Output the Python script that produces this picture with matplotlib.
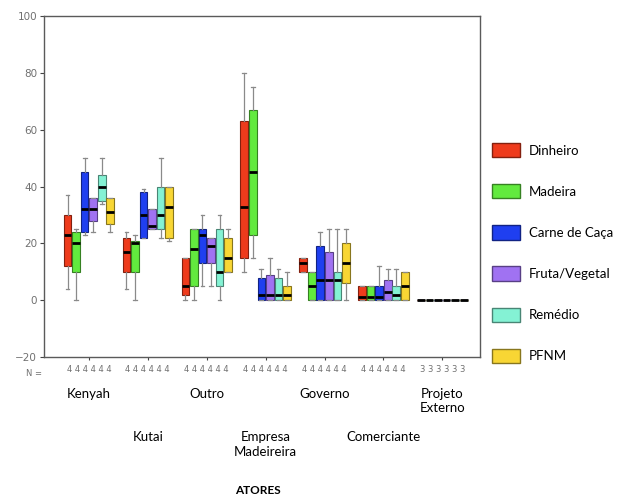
import matplotlib
matplotlib.use("Agg")
import matplotlib.pyplot as plt
import matplotlib.colors as mcolors
from matplotlib.patches import Patch
from matplotlib.transforms import blended_transform_factory

# Atores (eixo x), rótulos em duas linhas alternadas
atores = ["Kenyah", "Kutai", "Outro", "Empresa\nMadeireira", "Governo",
          "Comerciante", "Projeto\nExterno"]
n_por_ator = ["4 4 4 4 4 4", "4 4 4 4 4 4", "4 4 4 4 4 4", "4 4 4 4 4 4",
              "4 4 4 4 4 4", "4 4 4 4 4 4", "3 3 3 3 3 3"]

series = ["Dinheiro", "Madeira", "Carne de Caça", "Fruta/Vegetal", "Remédio", "PFNM"]
cores = ["#ee3b1c", "#62ea3e", "#1f3ff0", "#a072f2", "#84f2d4", "#f8d634"]

# (mín, Q1, mediana, Q3, máx) por ator
dinheiro = [(4, 12, 23, 30, 37), (4, 10, 17, 22, 24), (0, 2, 5, 15, 15),
            (10, 15, 33, 63, 80), (10, 10, 13, 15, 15), (0, 0, 1, 5, 5), (0, 0, 0, 0, 0)]
madeira = [(0, 10, 20, 24, 25), (0, 10, 20, 21, 23), (0, 5, 18, 25, 25),
           (15, 23, 45, 67, 75), (0, 0, 5, 10, 10), (0, 0, 1, 5, 5), (0, 0, 0, 0, 0)]
carne = [(23, 24, 32, 45, 50), (22, 22, 30, 38, 39), (5, 13, 23, 25, 30),
         (0, 0, 2, 8, 11), (0, 0, 7, 19, 24), (0, 0, 1, 5, 12), (0, 0, 0, 0, 0)]
fruta = [(24, 28, 32, 36, 36), (25, 25, 26, 32, 32), (5, 13, 19, 22, 22),
         (0, 0, 2, 9, 15), (0, 0, 7, 17, 25), (0, 0, 3, 7, 11), (0, 0, 0, 0, 0)]
remedio = [(34, 35, 40, 44, 50), (22, 25, 30, 40, 50), (0, 5, 10, 25, 30),
           (0, 0, 2, 8, 11), (0, 0, 7, 10, 25), (0, 0, 2, 5, 11), (0, 0, 0, 0, 0)]
pfnm = [(24, 27, 31, 36, 36), (21, 22, 33, 40, 40), (10, 10, 15, 22, 25),
        (0, 0, 2, 5, 10), (0, 6, 13, 20, 25), (0, 0, 5, 10, 10), (0, 0, 0, 0, 0)]
dados = [dinheiro, madeira, carne, fruta, remedio, pfnm]

fig = plt.figure(figsize=(6.3, 5.03), dpi=100)
ax = fig.add_axes([0.070, 0.290, 0.692, 0.678])

passo = 0.145
largura = 0.13
for i, (serie, cor) in enumerate(zip(dados, cores)):
    stats = [dict(whislo=s[0], q1=s[1], med=s[2], q3=s[3], whishi=s[4], fliers=[])
             for s in serie]
    pos = [g + (i - 2.5) * passo for g in range(len(atores))]
    borda = tuple(c * 0.55 for c in mcolors.to_rgb(cor))
    ax.bxp(stats, positions=pos, widths=largura, patch_artist=True,
           showfliers=False, manage_ticks=False,
           boxprops=dict(facecolor=cor, edgecolor=borda, linewidth=0.8),
           medianprops=dict(color="black", linewidth=2),
           whiskerprops=dict(color="#8a8a8a", linewidth=0.9),
           capprops=dict(color="#8a8a8a", linewidth=0.9),
           capwidths=largura * 0.5)

ax.set_xlim(-0.76, 6.64)
ax.set_ylim(-20, 100)
ax.set_yticks([-20, 0, 20, 40, 60, 80, 100])
ax.tick_params(axis="y", labelsize=7.5, labelcolor="#707070", length=3,
               color="#444444", pad=2)
ax.set_xticks(range(len(atores)))
ax.set_xticklabels(n_por_ator, fontsize=6, color="#707070")
ax.tick_params(axis="x", length=2.5, color="#444444", pad=3)
for sp in ax.spines.values():
    sp.set_color("#5a5a5a")
    sp.set_linewidth(1)

trans = blended_transform_factory(ax.transData, fig.transFigure)
fig.text(0.067, 1 - 373 / 503, "N =", fontsize=6, color="#707070",
         ha="right", va="center")
for g, nome in enumerate(atores):
    y = 1 - 388 / 503 if g % 2 == 0 else 1 - 431 / 503
    ax.text(g, y, nome, transform=trans, ha="center", va="top",
            fontsize=9.5, family="Lato", linespacing=1.25)

fig.text(0.41, 1 - 491 / 503, "ATORES", fontsize=8.5, fontweight="bold",
         family="Lato", ha="center", va="center")

alcas = [Patch(facecolor=c, edgecolor=tuple(v * 0.55 for v in mcolors.to_rgb(c)),
               linewidth=1) for c in cores]
fig.legend(alcas, series, loc="center left", bbox_to_anchor=(0.762, 0.497),
           frameon=False, prop=dict(family="Lato", size=9.5),
           handlelength=2.1, handleheight=1.3, labelspacing=2.03,
           handletextpad=0.7)

fig.savefig("out.png", dpi=100, facecolor="white")
